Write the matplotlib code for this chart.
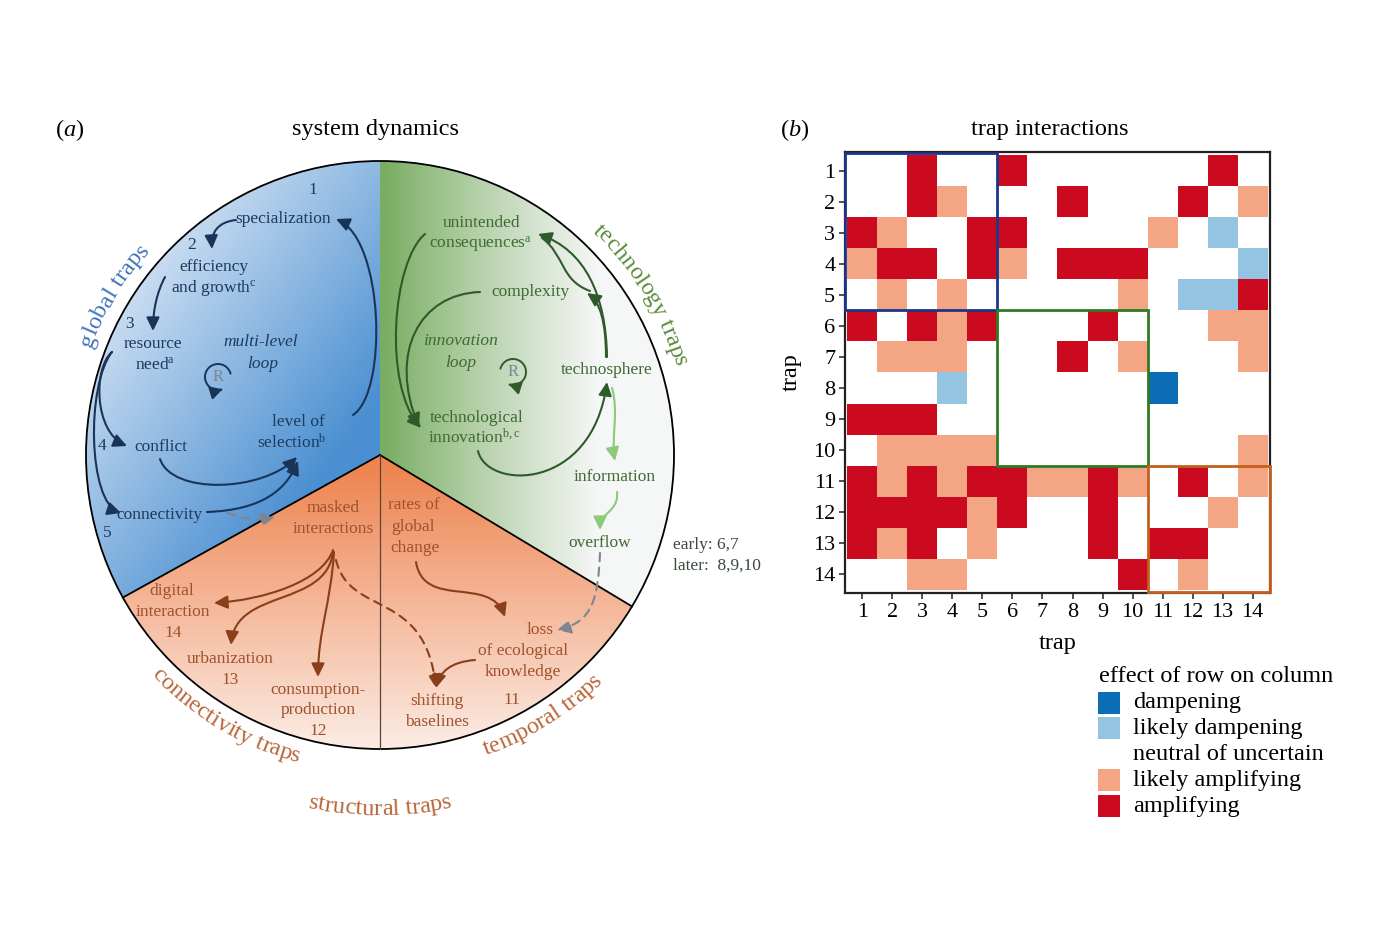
import numpy as np
import matplotlib
matplotlib.use('Agg')
import matplotlib.pyplot as plt
from matplotlib.patches import Wedge, Circle, Rectangle, FancyArrowPatch
from matplotlib.path import Path
from matplotlib.colors import ListedColormap, BoundaryNorm, to_rgb
from matplotlib.font_manager import FontProperties

plt.rcParams['font.family'] = ['Liberation Serif', 'DejaVu Serif']
plt.rcParams['mathtext.fontset'] = 'custom'
plt.rcParams['mathtext.rm'] = 'Liberation Serif'
plt.rcParams['mathtext.it'] = 'Liberation Serif:italic'

# ---------------- (b) trap interactions ----------------
traps = list(range(1, 15))
# -2 dampening, -1 likely dampening, 0 neutral, 1 likely amplifying, 2 amplifying
effect = [
    [0, 0, 2, 0, 0, 2, 0, 0, 0, 0, 0, 0, 2, 0],
    [0, 0, 2, 1, 0, 0, 0, 2, 0, 0, 0, 2, 0, 1],
    [2, 1, 0, 0, 2, 2, 0, 0, 0, 0, 1, 0, -1, 0],
    [1, 2, 2, 0, 2, 1, 0, 2, 2, 2, 0, 0, 0, -1],
    [0, 1, 0, 1, 0, 0, 0, 0, 0, 1, 0, -1, -1, 2],
    [2, 0, 2, 1, 2, 0, 0, 0, 2, 0, 0, 0, 1, 1],
    [0, 1, 1, 1, 0, 0, 0, 2, 0, 1, 0, 0, 0, 1],
    [0, 0, 0, -1, 0, 0, 0, 0, 0, 0, -2, 0, 0, 0],
    [2, 2, 2, 0, 0, 0, 0, 0, 0, 0, 0, 0, 0, 0],
    [0, 1, 1, 1, 1, 0, 0, 0, 0, 0, 0, 0, 0, 1],
    [2, 1, 2, 1, 2, 2, 1, 1, 2, 1, 0, 2, 0, 1],
    [2, 2, 2, 2, 1, 2, 0, 0, 2, 0, 0, 0, 1, 0],
    [2, 1, 2, 0, 1, 0, 0, 0, 2, 0, 2, 2, 0, 0],
    [0, 0, 1, 1, 0, 0, 0, 0, 0, 2, 0, 1, 0, 0],
]
legend_labels = ['dampening', 'likely dampening', 'neutral of uncertain',
                 'likely amplifying', 'amplifying']
legend_colors = ['#0b6db4', '#93c4e1', '#ffffff', '#f4a584', '#cc0a1f']
# trap groups boxed on the diagonal: (first, last, colour)
groups = [(1, 5, '#1c358a'), (6, 10, '#2f7a25'), (11, 14, '#c4601f')]

# ---------------- (a) system dynamics ----------------
CX, CY, R = 380, 455, 294
sectors = [  # name, start angle, end angle, colour near, colour far
    ('global', 90, 209, '#4a8fd1', '#eef3fa'),
    ('technology', -31, 90, '#79ad62', '#f5f6f6'),
    ('structural', 209, 329, '#ee8450', '#fcefe9'),
]

blue_txt, green_txt, orange_txt = '#1d3a5f', '#3e6a34', '#a0522d'

nodes = [  # x, y, text, colour, italic
    (313, 190, '1', blue_txt, False),
    (283, 219, 'specialization', blue_txt, False),
    (192, 245, '2', blue_txt, False),
    (214, 267, 'efficiency', blue_txt, False),
    (214, 288, 'and growth$^{\\mathrm{c}}$', blue_txt, False),
    (129, 324, '3', blue_txt, False),
    (153, 344, 'resource', blue_txt, False),
    (155, 365, 'need$^{\\mathrm{a}}$', blue_txt, False),
    (261, 342, 'multi-level', blue_txt, True),
    (263, 364, 'loop', blue_txt, True),
    (298, 422, 'level of', blue_txt, False),
    (292, 443, 'selection$^{\\mathrm{b}}$', blue_txt, False),
    (102, 446, '4', blue_txt, False),
    (161, 447, 'conflict', blue_txt, False),
    (159, 515, 'connectivity', blue_txt, False),
    (107, 533, '5', blue_txt, False),
    (482, 223, 'unintended', green_txt, False),
    (480, 245, 'consequences$^{\\mathrm{a}}$', green_txt, False),
    (530, 292, 'complexity', green_txt, False),
    (460, 341, 'innovation', green_txt, True),
    (461, 363, 'loop', green_txt, True),
    (607, 370, 'technosphere', green_txt, False),
    (477, 418, 'technological', green_txt, False),
    (474, 438, 'innovation$^{\\mathrm{b,c}}$', green_txt, False),
    (615, 477, 'information', green_txt, False),
    (600, 543, 'overflow', green_txt, False),
    (333, 508, 'masked', orange_txt, False),
    (333, 529, 'interactions', orange_txt, False),
    (414, 505, 'rates of', orange_txt, False),
    (413, 527, 'global', orange_txt, False),
    (415, 548, 'change', orange_txt, False),
    (172, 591, 'digital', orange_txt, False),
    (173, 612, 'interaction', orange_txt, False),
    (173, 633, '14', orange_txt, False),
    (230, 659, 'urbanization', orange_txt, False),
    (230, 680, '13', orange_txt, False),
    (318, 690, 'consumption-', orange_txt, False),
    (318, 710, 'production', orange_txt, False),
    (318, 731, '12', orange_txt, False),
    (540, 630, 'loss', orange_txt, False),
    (523, 651, 'of ecological', orange_txt, False),
    (523, 672, 'knowledge', orange_txt, False),
    (437, 701, 'shifting', orange_txt, False),
    (437, 722, 'baselines', orange_txt, False),
    (512, 700, '11', orange_txt, False),
]

arrows = [  # start, ctrl1, ctrl2, end, colour, dashed, head
    ((236, 220), (218, 222), (211, 232), (212, 249), '#1a3458', False, True),
    ((165, 277), (157, 292), (153, 310), (153, 331), '#1a3458', False, True),
    ((353, 415), (388, 392), (384, 240), (336, 219), '#1a3458', False, True),
    ((112, 352), (93, 368), (94, 432), (127, 446), '#1a3458', False, True),
    ((112, 352), (86, 385), (88, 502), (121, 513), '#1a3458', False, True),
    ((160, 459), (172, 495), (262, 492), (297, 457), '#1a3458', False, True),
    ((207, 512), (262, 510), (286, 490), (298, 461), '#1a3458', False, True),
    ((228, 513), (245, 520), (258, 520), (275, 517), '#7d8591', True, True),
    ((425, 234), (392, 262), (383, 385), (421, 428), '#2f5a2a', False, True),
    ((480, 292), (420, 294), (388, 352), (419, 427), '#2f5a2a', False, True),
    ((607, 357), (606, 295), (585, 250), (538, 234), '#2f5a2a', False, True),
    ((606, 357), (606, 322), (600, 302), (587, 293), '#2f5a2a', False, True),
    ((542, 238), (565, 255), (560, 280), (590, 291), '#2f5a2a', False, False),
    ((478, 451), (487, 490), (592, 492), (607, 382), '#2f5a2a', False, True),
    ((612, 388), (619, 412), (611, 440), (615, 461), '#8cc97a', False, True),
    ((617, 492), (619, 512), (600, 512), (600, 530), '#8cc97a', False, True),
    ((600, 553), (598, 600), (592, 622), (557, 630), '#7d8591', True, True),
    ((333, 550), (322, 582), (262, 600), (214, 603), '#8a3f1a', False, True),
    ((333, 552), (326, 608), (236, 588), (231, 645), '#8a3f1a', False, True),
    ((334, 552), (331, 602), (318, 632), (318, 677), '#8a3f1a', False, True),
    ((336, 560), (350, 618), (425, 588), (436, 688), '#8a3f1a', True, True),
    ((416, 562), (424, 610), (490, 575), (505, 617), '#8a3f1a', False, True),
    ((475, 660), (450, 662), (440, 672), (436, 688), '#8a3f1a', False, True),
]

arc_labels = [  # text, mid angle, baseline radius, colour, tops outward
    ('global traps', 149, 308, '#3f73b8', True),
    ('technology traps', 31.5, 308, '#5b8c3a', True),
    ('connectivity traps', 239.5, 318, '#b8673a', False),
    ('temporal traps', 302, 318, '#b8673a', False),
    ('structural traps', 270, 360, '#b8673a', False),
]

fig = plt.figure(figsize=(14, 9.32), dpi=100)
ax = fig.add_axes([0, 0, 1, 1])
ax.set_xlim(0, 1400)
ax.set_ylim(932, 0)
ax.axis('off')

# gradient-filled sectors
x0, x1, y0, y1 = CX - R - 2, CX + R + 2, CY - R - 2, CY + R + 2
yy, xx = np.mgrid[y0:y1, x0:x1].astype(float)
for name, th1, th2, c_near, c_far in sectors:
    if name == 'global':
        t = ((xx - 120) * 0.8 + (yy - 180) * 0.6) / 340
        t = 1 - np.clip(t, 0, 1)
    elif name == 'technology':
        t = np.clip((xx - 385) / 210, 0, 1) ** 0.9
    else:
        t = np.clip((yy - 465) / 290, 0, 1)
    a, b = np.array(to_rgb(c_near)), np.array(to_rgb(c_far))
    rgb = a[None, None, :] * (1 - t[..., None]) + b[None, None, :] * t[..., None]
    im = ax.imshow(rgb, extent=(x0, x1, y1, y0), origin='upper',
                   interpolation='bilinear', aspect='auto', zorder=1)
    w = Wedge((CX, CY), R, -th2, -th1, transform=ax.transData)
    im.set_clip_path(w)
ax.set_xlim(0, 1400)
ax.set_ylim(932, 0)

ax.add_patch(Circle((CX, CY), R, fill=False, ec='black', lw=1.3, zorder=3))
for ang in (209, 329):
    ax.plot([CX, CX + R * np.cos(np.radians(ang))],
            [CY, CY - R * np.sin(np.radians(ang))], color='black', lw=1.3, zorder=3)
ax.plot([CX, CX], [CY, CY + R], color='#5e4438', lw=0.9, zorder=3)

for x, y, s, c, it in nodes:
    ax.text(x, y, s, color=c, fontsize=12.5, ha='center', va='center',
            style='italic' if it else 'normal', zorder=5)
ax.text(673, 545, 'early: 6,7', color='#3b4a3b', fontsize=12.5, va='center')
ax.text(673, 566, 'later:  8,9,10', color='#3b4a3b', fontsize=12.5, va='center')

for p0, c1, c2, p1, col, dashed, head in arrows:
    path = Path([p0, c1, c2, p1], [Path.MOVETO, Path.CURVE4, Path.CURVE4, Path.CURVE4])
    ax.add_patch(FancyArrowPatch(
        path=path, arrowstyle='-|>,head_length=0.45,head_width=0.22' if head else '-',
        mutation_scale=18, color=col, lw=1.5, linestyle=(0, (4, 3)) if dashed else '-',
        shrinkA=0, shrinkB=0, zorder=4))


def loop_symbol(x, y, col, ccw):
    if ccw:
        th = np.radians(np.linspace(15, 290, 60))
    else:
        th = np.radians(np.linspace(165, -110, 60))
    pts = np.column_stack([x + 13 * np.cos(th), y - 13 * np.sin(th)])
    codes = [Path.MOVETO] + [Path.LINETO] * (len(pts) - 1)
    ax.add_patch(FancyArrowPatch(path=Path(pts, codes),
                                 arrowstyle='-|>,head_length=0.45,head_width=0.25',
                                 mutation_scale=16, color=col, lw=1.4, zorder=4))
    ax.text(x, y, 'R', color='#7a8794', fontsize=12, ha='center', va='center', zorder=5)


loop_symbol(218, 377, '#1a3458', True)
loop_symbol(513, 372, '#2f5a2a', False)

rend = fig.canvas.get_renderer()
fp_arc = FontProperties(family='Liberation Serif', size=17.5)


def text_w(s):
    if not s:
        return 0.0
    return rend.get_text_width_height_descent(s, fp_arc, ismath=False)[0]


for s, mid, r, col, outward in arc_labels:
    total = text_w(s)
    for i, ch in enumerate(s):
        if ch == ' ':
            continue
        c = (text_w(s[:i]) + text_w(s[:i + 1])) / 2
        off = (c - total / 2) / r
        if outward:
            th = np.radians(mid) - off
            rot = np.degrees(th) - 90
        else:
            th = np.radians(mid) + off
            rot = np.degrees(th) + 90
        ax.text(CX + r * np.cos(th), CY - r * np.sin(th), ch, fontproperties=fp_arc,
                color=col, rotation=rot, rotation_mode='anchor',
                ha='center', va='baseline', zorder=5)

ax.text(55, 130, '($a$)', fontsize=17.5, va='center')
ax.text(375, 130, 'system dynamics', fontsize=17.5, ha='center', va='center')
ax.text(780, 130, '($b$)', fontsize=17.5, va='center')
ax.text(1050, 130, 'trap interactions', fontsize=17.5, ha='center', va='center')

# legend
ax.text(1099, 676, 'effect of row on column', fontsize=17.5, va='center')
for i, (lab, col) in enumerate(zip(legend_labels, legend_colors)):
    yc = 702.5 + i * 25.9
    ax.add_patch(Rectangle((1098, yc - 11), 22, 22, fc=col, ec='none'))
    ax.text(1133, yc, lab, fontsize=17.5, va='center')

# heatmap
hm = fig.add_axes([845 / 1400, 1 - 593 / 932, 425 / 1400, 441 / 932])
cmap = ListedColormap(legend_colors)
norm = BoundaryNorm([-2.5, -1.5, -0.5, 0.5, 1.5, 2.5], cmap.N)
hm.imshow(np.array(effect), cmap=cmap, norm=norm, extent=(0.5, 14.5, 14.5, 0.5),
          aspect='auto', interpolation='nearest')
hm.set_xlim(0.42, 14.58)
hm.set_ylim(14.6, 0.4)
hm.set_xticks(traps)
hm.set_yticks(traps)
hm.set_xticklabels(traps, fontsize=16)
hm.set_yticklabels(traps, fontsize=16)
hm.tick_params(length=4, width=1.2, color='#333333', pad=3)
for sp in hm.spines.values():
    sp.set_linewidth(1.6)
    sp.set_color('#222222')
for a, b, col in groups:
    lo = a - 0.5 if a > 1 else 0.42
    hi = b + 0.5 if b < 14 else 14.58
    hm.add_patch(Rectangle((lo, lo), hi - lo, hi - lo, fill=False, ec=col, lw=2.0,
                           clip_on=False, zorder=3))
hm.set_xlabel('trap', fontsize=17.5, labelpad=8)
hm.set_ylabel('trap', fontsize=17.5, labelpad=8)

fig.savefig('out.png', dpi=100)
